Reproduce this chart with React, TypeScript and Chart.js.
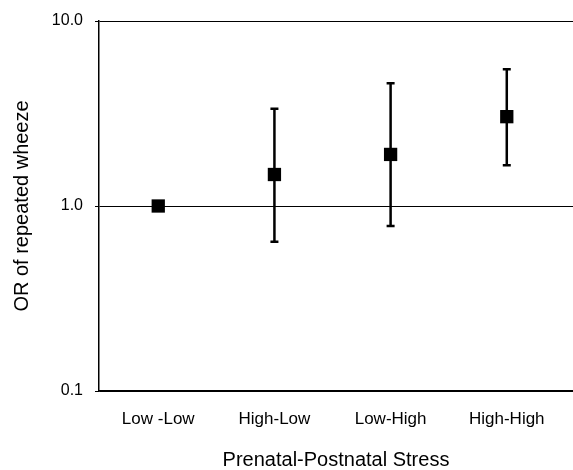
import React, { useEffect, useRef } from "react";
import { Chart, registerables } from "chart.js";

Chart.register(...registerables);

const categories = ["Low -Low", "High-Low", "Low-High", "High-High"];
const oddsRatios = [1.0, 1.48, 1.9, 3.04];
const lowerCI: (number | null)[] = [null, 0.64, 0.78, 1.66];
const upperCI: (number | null)[] = [null, 3.35, 4.61, 5.49];
const yTickValues = [0.1, 1, 10];

const FONT = "'Liberation Sans', Arial, sans-serif";

const errorBarsPlugin = {
  id: "errorBars",
  beforeDatasetsDraw(chart: any) {
    const { ctx, scales } = chart;
    const x = scales.x;
    const y = scales.y;
    ctx.save();
    ctx.strokeStyle = "#000";
    ctx.lineWidth = 2.5;
    ctx.lineCap = "butt";
    categories.forEach((_, i) => {
      const lo = lowerCI[i];
      const hi = upperCI[i];
      if (lo == null || hi == null) return;
      const px = x.getPixelForValue(i);
      const yl = y.getPixelForValue(lo);
      const yh = y.getPixelForValue(hi);
      ctx.beginPath();
      ctx.moveTo(px, yl);
      ctx.lineTo(px, yh);
      ctx.moveTo(px - 4, yl);
      ctx.lineTo(px + 4, yl);
      ctx.moveTo(px - 4, yh);
      ctx.lineTo(px + 4, yh);
      ctx.stroke();
    });
    ctx.restore();
  },
};

export default function App() {
  const canvasRef = useRef<HTMLCanvasElement | null>(null);

  useEffect(() => {
    const canvas = canvasRef.current;
    if (!canvas) return;
    const chart = new Chart(canvas, {
      type: "scatter",
      data: {
        datasets: [
          {
            data: categories.map((_, i) => ({ x: i, y: oddsRatios[i] })),
            pointStyle: "rect",
            pointRadius: 9.4,
            pointHoverRadius: 9.4,
            backgroundColor: "#000",
            borderColor: "#000",
            borderWidth: 0,
            showLine: false,
          } as any,
        ],
      },
      options: {
        animation: false,
        responsive: false,
        devicePixelRatio: 1,
        layout: {
          autoPadding: false,
          padding: { top: 21, right: 0, left: 0, bottom: 0 },
        },
        plugins: {
          legend: { display: false },
          tooltip: { enabled: false },
        },
        scales: {
          x: {
            type: "linear",
            min: -0.51,
            max: 3.57,
            afterBuildTicks: (s: any) => {
              s.ticks = categories.map((_, i) => ({ value: i }));
            },
            afterFit: (s: any) => {
              s.height = 79;
              s.paddingLeft = 0;
              s.paddingRight = 0;
            },
            grid: { display: false, drawTicks: false },
            border: { display: true, color: "#000", width: 1.5 },
            ticks: {
              callback: (v: any) => categories[Number(v)] ?? "",
              font: { family: FONT, size: 17 },
              color: "#000",
              padding: 18,
              maxRotation: 0,
              autoSkip: false,
            },
            title: {
              display: true,
              text: "Prenatal-Postnatal Stress",
              font: { family: FONT, size: 20, lineHeight: 1 },
              color: "#000",
              padding: { top: 0, bottom: 0 },
            },
          },
          y: {
            type: "logarithmic",
            min: 0.1,
            max: 10,
            afterBuildTicks: (s: any) => {
              s.ticks = yTickValues.map((v) => ({ value: v }));
            },
            afterFit: (s: any) => {
              s.width = 99;
              s.paddingTop = 0;
              s.paddingBottom = 0;
            },
            grid: {
              color: "#000",
              lineWidth: 1,
              drawTicks: true,
              tickLength: 4,
            },
            border: { display: true, color: "#000", width: 1.5 },
            ticks: {
              callback: (v: any) => Number(v).toFixed(1),
              font: { family: FONT, size: 16 },
              color: "#000",
              padding: 12,
              autoSkip: false,
            },
            title: {
              display: true,
              text: "OR of repeated wheeze",
              font: { family: FONT, size: 20, lineHeight: 1 },
              color: "#000",
              padding: { top: 12, bottom: 0 },
            },
          },
        },
      } as any,
      plugins: [errorBarsPlugin],
    });
    return () => chart.destroy();
  }, []);

  return (
    <div
      style={{
        position: "fixed",
        left: 0,
        top: 0,
        width: 573,
        height: 470,
        background: "#fff",
      }}
    >
      <canvas ref={canvasRef} width={573} height={470} />
    </div>
  );
}
